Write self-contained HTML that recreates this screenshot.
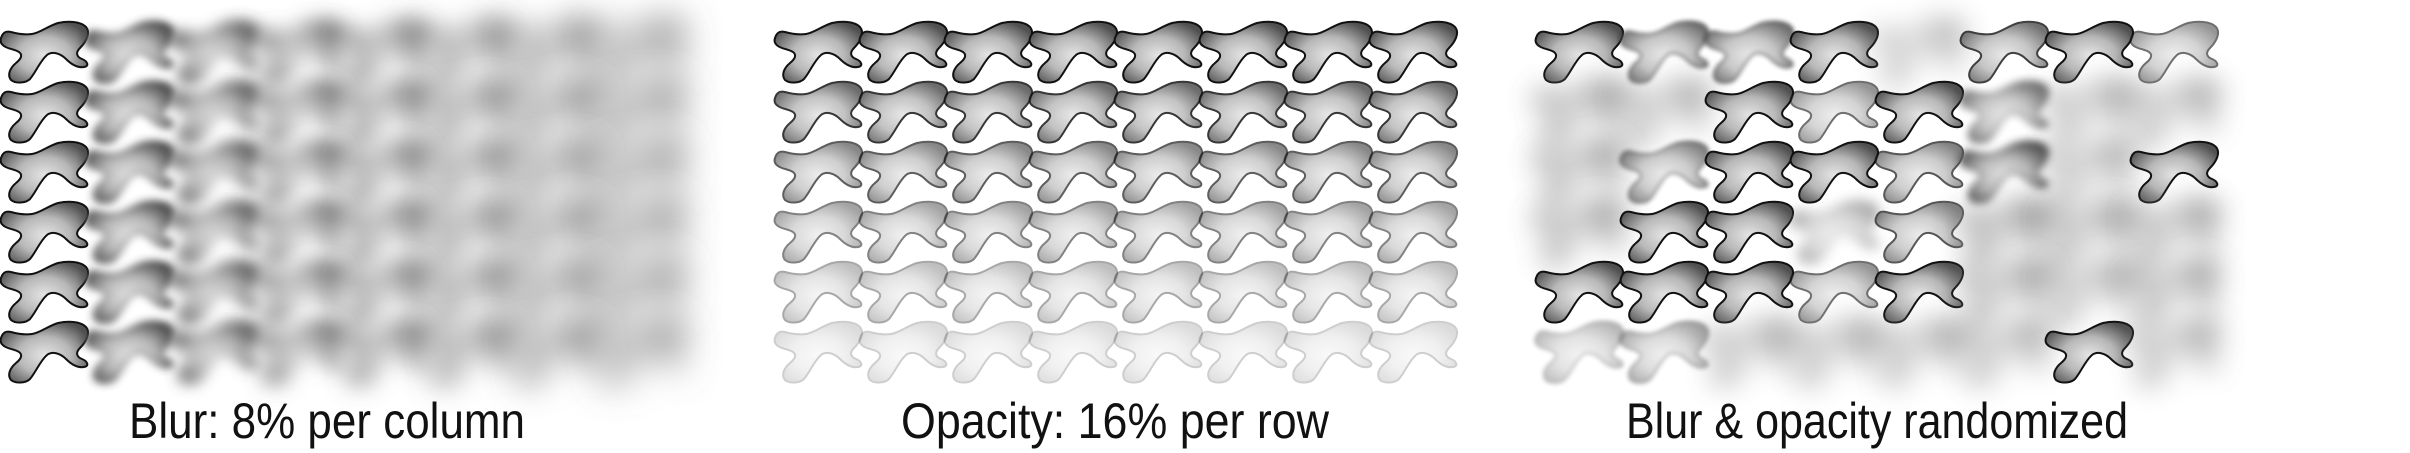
<!DOCTYPE html>
<html><head><meta charset="utf-8">
<style>
html,body{margin:0;padding:0;background:#fff;}
svg{display:block;}
text{font-family:"Liberation Sans Narrow","Liberation Sans",sans-serif;fill:#111;}
</style></head>
<body>
<svg id="chart" width="2410" height="453" viewBox="0 0 2410 453" xmlns="http://www.w3.org/2000/svg">
<defs>
<radialGradient id="g" cx="0.5" cy="0.55" r="0.6">
<stop offset="0" stop-color="#e4e4e4"/>
<stop offset="0.5" stop-color="#b8b8b8"/>
<stop offset="1" stop-color="#505050"/>
</radialGradient>
<path id="blob" d="M-1,16 C1,10 4,9 9,10 C16,12 22,13 30,12 C38,11 46,4 56,1 C66,-1 78,-1 84,5 C89,11 84,20 78,26 C73,31 75,35 80,37 C85,39 88,44 82,45 C76,46 70,43 64,37 C58,31 50,29 45,33 C38,39 34,50 28,57 C24,61 14,62 9,58 C5,53 8,46 14,41 C19,37 21,33 17,30 C12,27 6,27 2,24 C-1,22 -2,19 -1,16 Z" fill="url(#g)" stroke="#111" stroke-width="2"/>
</defs>
<g id="p1"></g>
<g id="p2"></g>
<g id="p3"></g>
<text x="327" y="438" font-size="50" text-anchor="middle" textLength="396" lengthAdjust="spacingAndGlyphs">Blur: 8% per column</text>
<text x="1115" y="438" font-size="50" text-anchor="middle" textLength="428" lengthAdjust="spacingAndGlyphs">Opacity: 16% per row</text>
<text x="1877" y="438" font-size="50" text-anchor="middle" textLength="502" lengthAdjust="spacingAndGlyphs">Blur &amp; opacity randomized</text>
</svg>
<script>
const blurCols = [0, 4, 7, 10, 12, 14, 16, 18];
const opacityRows = [1, 0.84, 0.68, 0.52, 0.36, 0.2];
const randBlur = [
 [0, 2, 2, 0, 14, 0, 0, 0],
 [14, 14, 0, 0, 0, 4, 14, 14],
 [14, 2, 0, 0, 0, 4, 14, 0],
 [14, 0, 0, 6, 0, 14, 14, 14],
 [0, 0, 0, 0, 0, 14, 14, 14],
 [2, 2, 14, 14, 14, 14, 0, 14]
];
const randOpacity = [
 [1, 0.8, 0.8, 1, 0.6, 0.8, 1, 0.6],
 [0.8, 0.7, 1, 0.6, 1, 0.8, 0.7, 0.7],
 [0.8, 0.7, 1, 1, 0.7, 1, 0.7, 1],
 [0.8, 1, 1, 0.5, 0.7, 0.9, 0.8, 0.8],
 [1, 1, 1, 0.6, 1, 0.8, 0.7, 0.8],
 [0.4, 0.5, 0.7, 0.7, 0.7, 0.7, 1, 0.7]
];
const NS = "http://www.w3.org/2000/svg";
const rows = 6, cols = 8;
const pitchX = 85, pitchY = 60, top0 = 22;
const panelX = [2, 776, 1537];
const defs = document.querySelector('defs');
const filterCache = {};
function blurFilter(s){
  if (!s) return null;
  const id = 'b' + String(s).replace('.', '_');
  if (!filterCache[id]) {
    const f = document.createElementNS(NS, 'filter');
    f.setAttribute('id', id);
    f.setAttribute('x', '-100%'); f.setAttribute('y', '-100%');
    f.setAttribute('width', '300%'); f.setAttribute('height', '300%');
    const gb = document.createElementNS(NS, 'feGaussianBlur');
    gb.setAttribute('stdDeviation', s);
    f.appendChild(gb); defs.appendChild(f);
    filterCache[id] = true;
  }
  return 'url(#' + id + ')';
}
function xPos(p, c){ return panelX[p] + c * pitchX; }
function yPos(r){ return top0 + r * pitchY; }
function place(group, p, r, c, blur, op){
  const u = document.createElementNS(NS, 'use');
  u.setAttribute('href', '#blob');
  u.setAttribute('x', xPos(p, c));
  u.setAttribute('y', yPos(r));
  u.setAttribute('opacity', op);
  const f = blurFilter(blur);
  if (f) u.setAttribute('filter', f);
  
  
  group.appendChild(u);
}
const g1 = document.getElementById('p1'), g2 = document.getElementById('p2'), g3 = document.getElementById('p3');
for (let r = 0; r < rows; r++) for (let c = 0; c < cols; c++) {
  place(g1, 0, r, c, blurCols[c], 1);
  place(g2, 1, r, c, 0, opacityRows[r]);
  place(g3, 2, r, c, randBlur[r][c], randOpacity[r][c]);
}
</script>
</body></html>
